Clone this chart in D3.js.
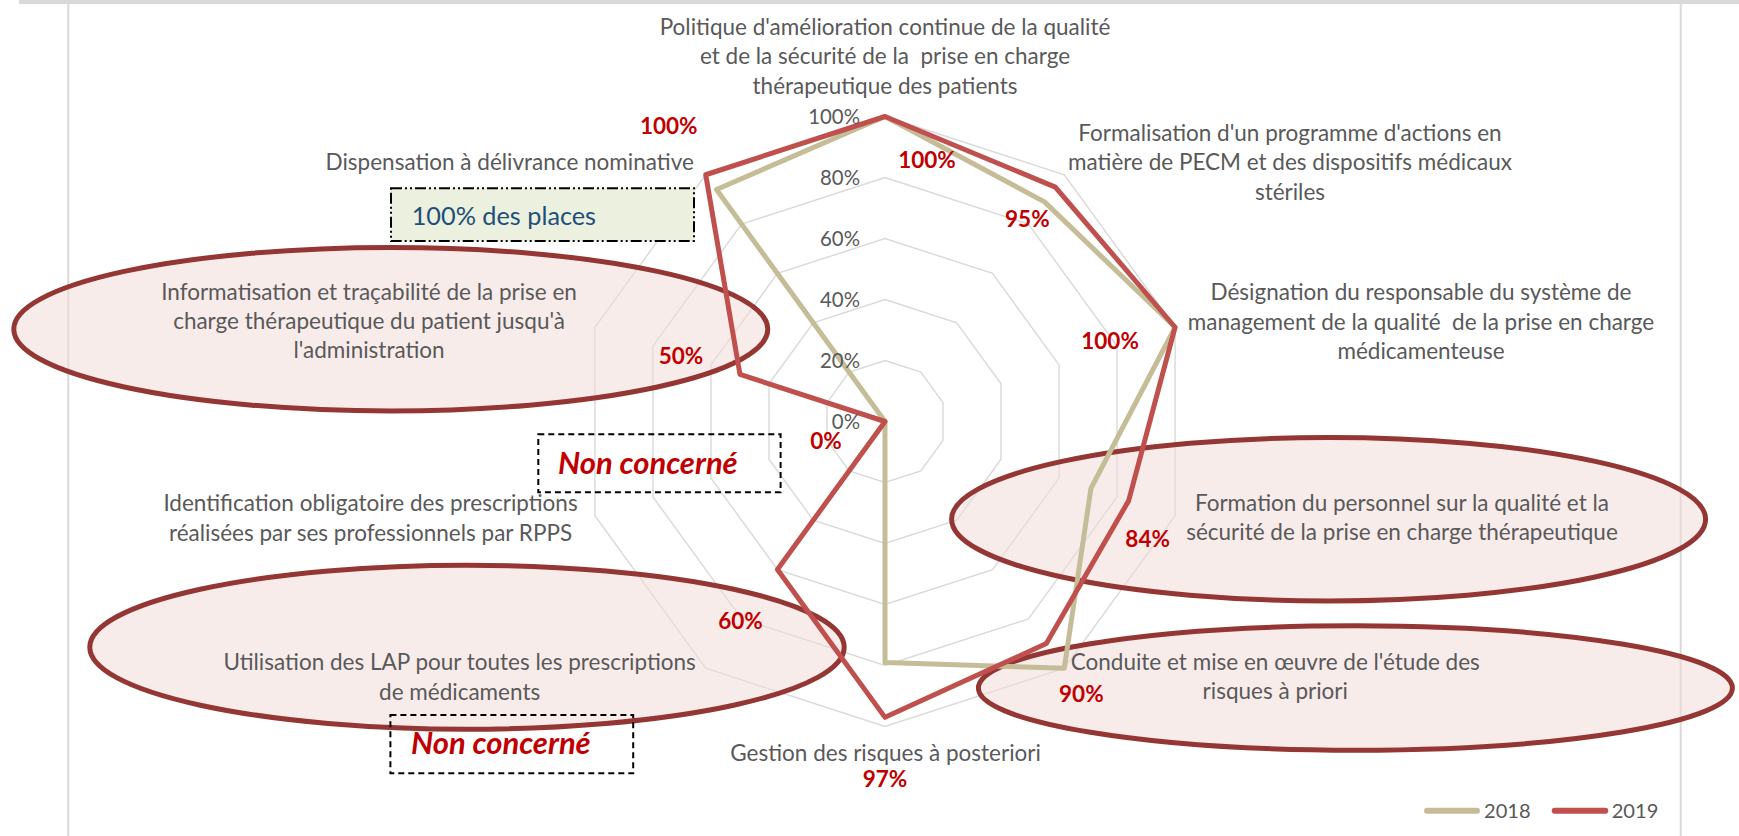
<!DOCTYPE html>
<html>
<head>
<meta charset="utf-8">
<script src="https://cdn.jsdelivr.net/npm/d3@7"></script>
<style>
  html, body { margin: 0; padding: 0; background: #ffffff; }
  svg { display: block; }
  text { white-space: pre; }
</style>
</head>
<body>
<svg id="chart" width="1739" height="836"></svg>
<script>
// ---------------- DATA ----------------
const categories = [
  ["Politique d'amélioration continue de la qualité", "et de la sécurité de la  prise en charge", "thérapeutique des patients"],
  ["Formalisation d'un programme d'actions en", "matière de PECM et des dispositifs médicaux", "stériles"],
  ["Désignation du responsable du système de", "management de la qualité  de la prise en charge", "médicamenteuse"],
  ["Formation du personnel sur la qualité et la", "sécurité de la prise en charge thérapeutique"],
  ["Conduite et mise en œuvre de l'étude des", "risques à priori"],
  ["Gestion des risques à posteriori"],
  ["Utilisation des LAP pour toutes les prescriptions", "de médicaments"],
  ["Identification obligatoire des prescriptions", "réalisées par ses professionnels par RPPS"],
  ["Informatisation et traçabilité de la prise en", "charge thérapeutique du patient jusqu'à", "l'administration"],
  ["Dispensation à délivrance nominative"]
];
const seriesNames = ["2018", "2019"];
const values2018 = [100, 89, 100, 71, 100, 79, 0, 0, 0, 94];
const values2019 = [100, 95, 100, 84, 90, 97, 60, 0, 50, 100];
const tickValues = [0, 20, 40, 60, 80, 100];
const tickLabels = ["0%", "20%", "40%", "60%", "80%", "100%"];
const dataLabels2019 = ["100%", "95%", "100%", "84%", "90%", "97%", "60%", "0%", "50%", "100%"];
const highlightedCategories = [8, 3, 4, 6];   // categories circled in the chart
const noteTexts = ["100% des places", "Non concerné", "Non concerné"];

// ---------------- LAYOUT ----------------
const W = 1739, H = 836;
const cx = 885, cy = 421.5, R = 305;
const FONT = "Lato, 'Open Sans', 'Liberation Sans', sans-serif";
const GRAY_TXT = "#595959";
const COL2018 = "#c4bd97", COL2019 = "#c0504d";
const LABEL_RED = "#c00000";

// label block centres relative to each axis end (100%)
const catLabelOffsets = [[0,-58.5],[225.7,-10.9],[245.9,-4],[226.9,3.5],[211,9.8],[0.6,28.5],[-246.1,10.6],[-224.4,3.8],[-225.9,-4.5],[-196,-10.8]];
const catLineHeight = 29.4;
// data-label centres relative to each 2019 point
const dataLabelOffsets = [[42,43.5],[-28,32],[-65,14],[19,38],[35,50],[0,62],[-37,51],[-59,19],[-59,-18],[-37,-49]];
// annotation ellipses (centre x, centre y, rx, ry) for the highlighted categories
const ellipseGeom = [[390.8,329.2,377,81.7],[1328.6,519.2,377,81.7],[1355.4,688,377,62.2],[467,647.2,377.2,82]];
// note boxes: x, y, w, h, text x, text baseline
const noteBoxes = [[391,188.3,303,52.7,411.7,225],[538.3,434.3,242.3,58,558,474],[390.4,715,242.8,58.3,411,754.3]];

const svg = d3.select("#chart");

function fitSize(str, weight, style, target) {
  const t = svg.append("text").attr("font-family", FONT).attr("font-size", 100)
    .attr("font-weight", weight).attr("font-style", style).text(str);
  const w = t.node().getComputedTextLength();
  t.remove();
  return 100 * target / w;
}
const catSize = fitSize(categories[0][0], 400, "normal", 451);
const tickSize = fitSize("100%", 400, "normal", 51.8);
const dataSize = fitSize("100%", 700, "normal", 57.7);
const legendSize = fitSize("2018", 400, "normal", 46.7);
const ncSize = fitSize("Non concerné", 700, "italic", 179.8);
const placesSize = fitSize("100% des places", 400, "normal", 184.5);

// background + frame
svg.append("rect").attr("width", W).attr("height", H).attr("fill", "#ffffff");
svg.append("rect").attr("x", 19).attr("y", 0).attr("width", W - 19).attr("height", 4).attr("fill", "#d9d9d9");
[68.3, 1680.7].forEach(x => svg.append("line").attr("x1", x).attr("x2", x).attr("y1", 4).attr("y2", H)
  .attr("stroke", "#d9d9d9").attr("stroke-width", 2));

// scales
const N = categories.length;
const angle = d3.scaleLinear().domain([0, N]).range([0, 2 * Math.PI]);
const r = d3.scaleLinear().domain([0, 100]).range([0, R]);
const pt = (i, v) => [cx + r(v) * Math.sin(angle(i)), cy - r(v) * Math.cos(angle(i))];
const radial = d3.lineRadial().angle((d, i) => angle(i)).radius(d => r(d)).curve(d3.curveLinearClosed);

// grid rings
const gGrid = svg.append("g").attr("transform", `translate(${cx},${cy})`);
gGrid.selectAll("path.ring").data(tickValues.filter(t => t > 0)).join("path")
  .attr("class", "ring")
  .attr("d", t => radial(d3.range(N).map(() => t)))
  .attr("fill", "none").attr("stroke", "#d9d9d9").attr("stroke-width", 1.4);

// annotation ellipses
svg.selectAll("ellipse.note").data(highlightedCategories).join("ellipse")
  .attr("class", "note")
  .attr("cx", (d, i) => ellipseGeom[i][0]).attr("cy", (d, i) => ellipseGeom[i][1])
  .attr("rx", (d, i) => ellipseGeom[i][2]).attr("ry", (d, i) => ellipseGeom[i][3])
  .attr("fill", "#f2dcdb").attr("fill-opacity", 0.55)
  .attr("stroke", "#943634").attr("stroke-width", 5);

// category labels
categories.forEach((lines, i) => {
  const [ex, ey] = pt(i, 100);
  const bx = ex + catLabelOffsets[i][0], by = ey + catLabelOffsets[i][1];
  const t = svg.append("text").attr("font-family", FONT).attr("font-size", catSize)
    .attr("fill", GRAY_TXT).attr("text-anchor", "middle");
  lines.forEach((ln, k) => {
    t.append("tspan").attr("x", bx)
      .attr("y", by + (k - (lines.length - 1) / 2) * catLineHeight + 0.28 * catSize)
      .text(ln);
  });
});

// data lines (above the ellipses)
const series = [values2018, values2019];
const colors = [COL2018, COL2019];
const gData = svg.append("g").attr("transform", `translate(${cx},${cy})`);
gData.selectAll("path.series").data(series).join("path")
  .attr("class", "series")
  .attr("d", d => radial(d))
  .attr("fill", "none").attr("stroke", (d, i) => colors[i])
  .attr("stroke-width", 5).attr("stroke-linejoin", "round");

// tick labels (drawn on top of the series)
svg.selectAll("text.tick").data(tickValues).join("text")
  .attr("class", "tick")
  .attr("x", cx - 25).attr("y", t => cy - r(t) + 0.36 * tickSize)
  .attr("text-anchor", "end").attr("font-family", FONT).attr("font-size", tickSize)
  .attr("fill", GRAY_TXT).text((t, i) => tickLabels[i]);

// data labels (2019)
svg.selectAll("text.dlabel").data(values2019).join("text")
  .attr("class", "dlabel")
  .attr("x", (v, i) => pt(i, v)[0] + dataLabelOffsets[i][0])
  .attr("y", (v, i) => pt(i, v)[1] + dataLabelOffsets[i][1] + 0.36 * dataSize)
  .attr("text-anchor", "middle").attr("font-family", FONT).attr("font-weight", 700)
  .attr("font-size", dataSize).attr("fill", LABEL_RED)
  .text((v, i) => dataLabels2019[i]);

// note boxes
noteBoxes.forEach((b, i) => {
  const first = i === 0;
  svg.append("rect").attr("x", b[0]).attr("y", b[1]).attr("width", b[2]).attr("height", b[3])
    .attr("fill", first ? "#ebf1de" : "none")
    .attr("stroke", "#000000").attr("stroke-width", 2)
    .attr("stroke-dasharray", first ? "11,3,2,3,2,3" : "6,4");
  svg.append("text").attr("x", b[4]).attr("y", b[5])
    .attr("font-family", FONT)
    .attr("font-size", first ? placesSize : ncSize)
    .attr("font-weight", first ? 400 : 700)
    .attr("font-style", first ? "normal" : "italic")
    .attr("fill", first ? "#1f4e79" : LABEL_RED)
    .text(noteTexts[i]);
});

// legend
const legendItems = [[1424, 1480, 1484], [1551.7, 1608.3, 1611.7]];
const ly = 810.7;
seriesNames.forEach((name, i) => {
  const [x1, x2, tx] = legendItems[i];
  svg.append("line").attr("x1", x1 + 3).attr("x2", x2 - 3).attr("y1", ly).attr("y2", ly)
    .attr("stroke", colors[i]).attr("stroke-width", 6).attr("stroke-linecap", "round");
  svg.append("text").attr("x", tx).attr("y", ly + 0.36 * legendSize)
    .attr("font-family", FONT).attr("font-size", legendSize).attr("fill", GRAY_TXT).text(name);
});
</script>
</body>
</html>
